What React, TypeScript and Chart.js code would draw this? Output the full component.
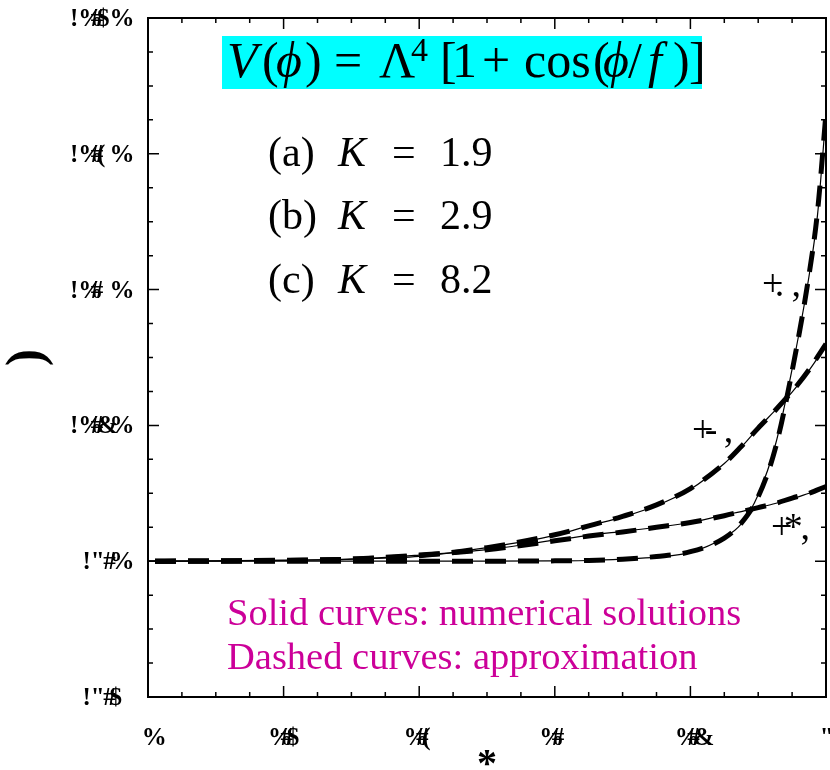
import React, { useEffect, useRef } from "react";
import { Chart, registerables } from "chart.js";

Chart.register(...registerables);

// ---- data ----
const xs = [0, 0.1, 0.2, 0.3, 0.4, 0.5, 0.6, 0.65, 0.7, 0.75, 0.8, 0.85, 0.875, 0.9, 0.925, 0.95, 0.975, 0.9875, 1.0];

const solidA = [-1, -0.9995, -0.9985, -0.997, -0.991, -0.983, -0.969, -0.962, -0.956, -0.95, -0.943, -0.932, -0.927, -0.921, -0.915, -0.908, -0.9, -0.896, -0.892];
const solidB = [-1, -0.9997, -0.999, -0.997, -0.993, -0.98, -0.962, -0.948, -0.935, -0.918, -0.894, -0.856, -0.832, -0.804, -0.778, -0.751, -0.719, -0.701, -0.682];
const solidC = [-1, -1, -1, -1, -1, -1, -0.9995, -0.999, -0.997, -0.994, -0.987, -0.965, -0.945, -0.902, -0.83, -0.717, -0.58, -0.49, -0.343];

const approxA = [-1, -0.9995, -0.9985, -0.997, -0.991, -0.983, -0.97, -0.963, -0.957, -0.95, -0.943, -0.933, -0.927, -0.921, -0.915, -0.907, -0.9, -0.895, -0.89];
const approxB = [-1, -0.9997, -0.999, -0.997, -0.992, -0.98, -0.961, -0.948, -0.934, -0.917, -0.893, -0.856, -0.831, -0.804, -0.778, -0.75, -0.718, -0.699, -0.68];
const approxC = [-1, -1, -1, -1, -1, -1, -0.9995, -0.999, -0.997, -0.993, -0.986, -0.966, -0.944, -0.905, -0.835, -0.72, -0.578, -0.485, -0.34];

const xTickValues = [0, 0.2, 0.4, 0.6, 0.8, 1.0];
const xTickLabels = ["%", "%#$", "%#(", "%# ", "%#&", '"'];
const yTickValues = [-1.2, -1.0, -0.8, -0.6, -0.4, -0.2];
const yTickLabels = ['!"#$', '!"#%', "!%#&%", "!%# %", "!%#(%", "!%#$%"];

const xTitle = "*";
const yTitle = ")";
const curveLabels = ["+*,", "+-,", "+.,"];
const legendRows = [["(a)", "K", "1.9"], ["(b)", "K", "2.9"], ["(c)", "K", "8.2"]];
const noteLines = ["Solid curves: numerical solutions", "Dashed curves: approximation"];

// glyph advance substitutions (the labels use a remapped font)
const advanceOf: Record<string, string> = {
  "!": "-", '"': "1", "#": ".", "$": "2", "%": "0", "&": "8", "(": "4", " ": "6",
  "+": "(", ",": ")", "*": "a", "-": "b", ".": "c",
};

const SERIF = "'Liberation Serif', 'Times New Roman', serif";

function drawGarbled(ctx: CanvasRenderingContext2D, text: string, x: number, y: number, align: "left" | "right" | "center") {
  let total = 0;
  for (const ch of text) total += ctx.measureText(advanceOf[ch] ?? ch).width;
  let px = align === "left" ? x : align === "right" ? x - total : x - total / 2;
  ctx.textAlign = "left";
  for (const ch of text) {
    ctx.fillText(ch, px, y);
    px += ctx.measureText(advanceOf[ch] ?? ch).width;
  }
}

const decorPlugin = {
  id: "decor",
  afterDraw(chart: any) {
    const ctx: CanvasRenderingContext2D = chart.ctx;
    const { left, right, top, bottom } = chart.chartArea;
    const xs_ = chart.scales.x;
    const ys_ = chart.scales.y;
    ctx.save();
    ctx.strokeStyle = "#000";
    // frame
    ctx.lineWidth = 2;
    ctx.strokeRect(left, top, right - left, bottom - top);
    // inside ticks on all sides
    ctx.lineWidth = 1.5;
    for (let i = 0; i <= 20; i++) {
      const v = i * 0.05;
      const px = xs_.getPixelForValue(v);
      const len = i % 4 === 0 ? 11 : 5;
      ctx.beginPath();
      ctx.moveTo(px, bottom); ctx.lineTo(px, bottom - len);
      ctx.moveTo(px, top); ctx.lineTo(px, top + len);
      ctx.stroke();
    }
    for (let i = 0; i <= 20; i++) {
      const v = -1.2 + i * 0.05;
      const py = ys_.getPixelForValue(v);
      const len = i % 4 === 0 ? 11 : 5;
      ctx.beginPath();
      ctx.moveTo(left, py); ctx.lineTo(left + len, py);
      ctx.moveTo(right, py); ctx.lineTo(right - len, py);
      ctx.stroke();
    }
    // tick labels
    ctx.fillStyle = "#000";
    ctx.font = `bold 25px ${SERIF}`;
    ctx.textBaseline = "alphabetic";
    yTickValues.forEach((v, i) => {
      drawGarbled(ctx, yTickLabels[i], 122, ys_.getPixelForValue(v) + 8, "right");
    });
    xTickValues.forEach((v, i) => {
      drawGarbled(ctx, xTickLabels[i], xs_.getPixelForValue(v), 745, "center");
    });

    // curve labels
    ctx.font = `38px ${SERIF}`;
    drawGarbled(ctx, curveLabels[2], 762, 296, "left");
    drawGarbled(ctx, curveLabels[1], 692, 442, "left");
    drawGarbled(ctx, curveLabels[0], 771, 539, "left");

    // formula box
    ctx.fillStyle = "#00ffff";
    ctx.fillRect(222, 36, 480, 53);
    ctx.fillStyle = "#000";
    const F = 50;
    const it = `italic ${F}px ${SERIF}`;
    const rm = `${F}px ${SERIF}`;
    const pieces: [number, string, string, number][] = [
      [227, "V", it, 77], [262, "(", rm, 77], [276, "\u03D5", it, 77], [305, ")", rm, 77],
      [334, "=", rm, 77], [379, "\u039B", rm, 77], [411, "4", `34px ${SERIF}`, 61],
      [440, "[", rm, 77], [452, "1", rm, 77], [482, "+", rm, 77], [524, "cos", rm, 77],
      [593, "(", rm, 77], [603, "\u03D5", it, 77], [628, "/", rm, 77], [648, "f", it, 77],
      [673, ")", rm, 77], [689, "]", rm, 77],
    ];
    ctx.textAlign = "left";
    for (const [x, s, f, y] of pieces) {
      ctx.font = f;
      ctx.fillText(s, x, y);
    }

    // legend rows
    const baselines = [166, 229, 293];
    legendRows.forEach((row, i) => {
      const y = baselines[i];
      ctx.font = `42px ${SERIF}`;
      ctx.fillText(row[0], 268, y);
      ctx.font = `italic 42px ${SERIF}`;
      ctx.fillText(row[1], 338, y);
      ctx.font = `42px ${SERIF}`;
      ctx.fillText("=", 392, y);
      ctx.fillText(row[2], 440, y);
    });

    // notes
    ctx.fillStyle = "#cc0099";
    ctx.font = `38.5px ${SERIF}`;
    ctx.fillText(noteLines[0], 227, 625);
    ctx.fillText(noteLines[1], 227, 669);
    ctx.restore();
  },
};

const toPts = (vals: number[]) => vals.map((y, i) => ({ x: xs[i], y }));

export default function App() {
  const ref = useRef<HTMLCanvasElement | null>(null);
  useEffect(() => {
    if (!ref.current) return;
    const solid = { borderColor: "#000", borderWidth: 1.2, pointRadius: 0, cubicInterpolationMode: "monotone" as const, fill: false };
    const dashed = { borderColor: "#000", borderWidth: 5, borderDash: [21, 12], borderDashOffset: 26, pointRadius: 0, cubicInterpolationMode: "monotone" as const, fill: false, borderCapStyle: "butt" as const };
    const chart = new Chart(ref.current, {
      type: "line",
      data: {
        datasets: [
          { label: "(a) approx", data: toPts(approxA), ...dashed },
          { label: "(b) approx", data: toPts(approxB), ...dashed },
          { label: "(c) approx", data: toPts(approxC), ...dashed },
          { label: "(a) numerical", data: toPts(solidA), ...solid },
          { label: "(b) numerical", data: toPts(solidB), ...solid },
          { label: "(c) numerical", data: toPts(solidC), ...solid },
        ],
      },
      options: {
        animation: false,
        responsive: false,
        maintainAspectRatio: false,
        layout: { padding: { top: 18, right: 4, left: 0, bottom: 0 } },
        plugins: { legend: { display: false }, tooltip: { enabled: false } },
        scales: {
          x: {
            type: "linear", min: 0, max: 1,
            grid: { display: false }, border: { display: false },
            ticks: { display: false },
            title: { display: true, text: xTitle, color: "#000", font: { family: SERIF, size: 40, weight: "bold", lineHeight: 1 }, padding: { top: 0, bottom: -16 } },
            afterFit: (s: any) => { s.height = 73; },
          },
          y: {
            type: "linear", min: -1.2, max: -0.2,
            grid: { display: false }, border: { display: false },
            ticks: { display: false },
            title: { display: true, text: yTitle, color: "#000", font: { family: SERIF, size: 52, weight: "bold", lineHeight: 1 }, padding: { top: 3, bottom: 0 } },
            afterFit: (s: any) => { s.width = 148; },
          },
        },
      },
      plugins: [decorPlugin],
    });
    return () => chart.destroy();
  }, []);
  return (
    <div style={{ position: "absolute", left: 0, top: 0, width: 830, height: 770, background: "#fff" }}>
      <canvas ref={ref} width={830} height={770} />
    </div>
  );
}
